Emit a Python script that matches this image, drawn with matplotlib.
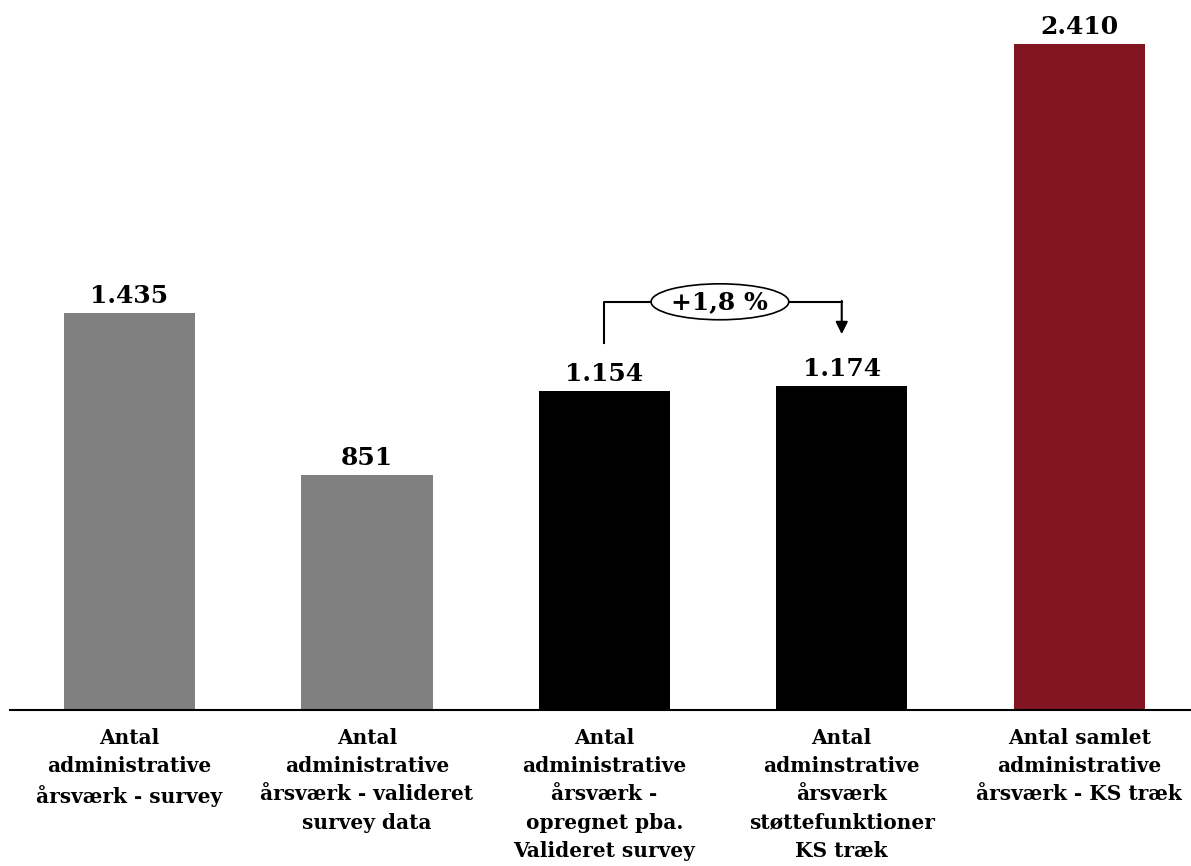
import matplotlib
matplotlib.use("Agg")
import matplotlib.pyplot as plt
from matplotlib.patches import Ellipse

# Årsværk per opgørelse
categories = [
    "Antal\nadministrative\nårsværk - survey",
    "Antal\nadministrative\nårsværk - valideret\nsurvey data",
    "Antal\nadministrative\nårsværk -\nopregnet pba.\nValideret survey",
    "Antal\nadminstrative\nårsværk\nstøttefunktioner\nKS træk",
    "Antal samlet\nadministrative\nårsværk - KS træk",
]
values = [1435, 851, 1154, 1174, 2410]
value_labels = ["1.435", "851", "1.154", "1.174", "2.410"]
change_label = "+1,8 %"

colors = ["#808080", "#808080", "#000000", "#000000", "#821520"]
font = "DejaVu Serif"

fig = plt.figure(figsize=(11.91, 8.66), dpi=100)
ax = fig.add_axes([10 / 1191, 156 / 866, 1 - 10 / 1191, 710 / 866])

x = list(range(len(values)))
ax.bar(x, values, width=0.553, color=colors)

for xi, v, lab in zip(x, values, value_labels):
    ax.text(xi, v + 18, lab, ha="center", va="bottom", fontsize=18,
            fontweight="bold", family=font)

ax.set_xlim(-0.503, 4.471)
ax.set_ylim(0, 2569)

for s in ["top", "right", "left"]:
    ax.spines[s].set_visible(False)
ax.spines["bottom"].set_linewidth(1.5)
ax.set_yticks([])
ax.set_xticks(x)
ax.set_xticklabels(categories, fontsize=14.5, fontweight="bold", family=font,
                   linespacing=1.51, va="top")
ax.tick_params(axis="x", length=0, pad=13)

# bracket showing the change between bar 3 and 4
y_top = 1477
ax.plot([2, 2, 2.2], [1328, y_top, y_top], color="black", lw=1.5)
ax.plot([2.78, 3], [y_top, y_top], color="black", lw=1.5)
ax.annotate("", xy=(3, 1360), xytext=(3, y_top + 3),
            arrowprops=dict(arrowstyle="-|>", color="black", lw=1.5,
                            mutation_scale=18, shrinkA=0, shrinkB=0))
ax.add_patch(Ellipse((2.487, y_top), 0.58, 130, facecolor="white",
                     edgecolor="black", lw=1.2, zorder=3))
ax.text(2.487, y_top, change_label, ha="center", va="center", fontsize=18,
        fontweight="bold", family=font, zorder=4)

fig.savefig("out.png", dpi=100)
